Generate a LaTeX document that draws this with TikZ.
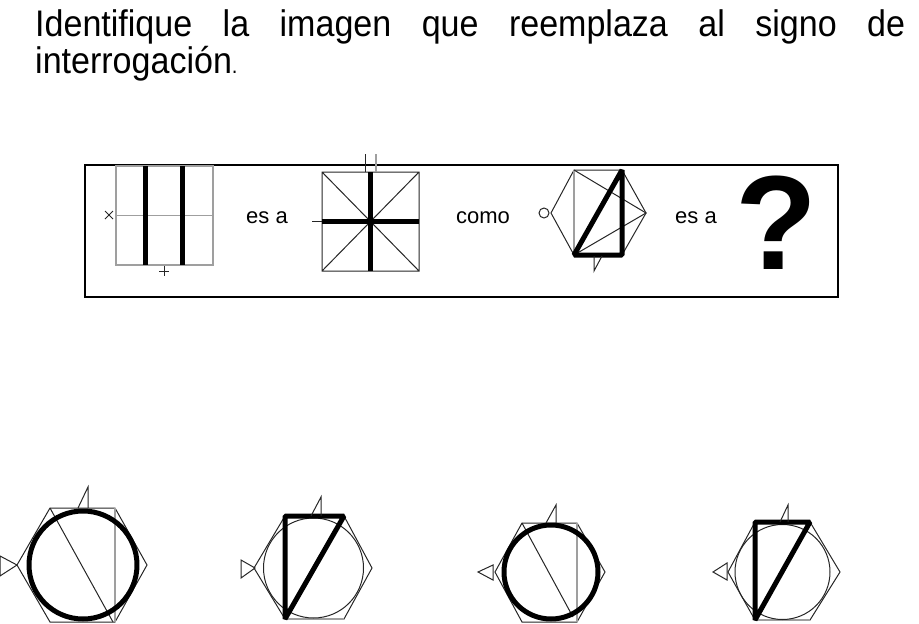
\documentclass[tikz,border=0pt]{standalone}
\usepackage{fontspec}
\setmainfont{Liberation Sans}
\newfontfamily\narrowfont[FakeStretch=0.92]{Liberation Sans}
\tikzset{
  thinline/.style={line width=1pt, black!85},
  greyline/.style={line width=1.5pt, gray!75},
  boldline/.style={line width=5pt, line join=bevel},
  word/.style={font=\fontsize{22}{26}\selectfont, anchor=base, inner sep=0pt},
}
\begin{document}
\begin{tikzpicture}[x=1pt, y=-1pt]
  \useasboundingbox (0,0) rectangle (919,624);
  % statement
  \node[anchor=base west, inner sep=0pt, font=\narrowfont\fontsize{37}{44}\selectfont] (line1) at (35,36)
    {\makebox[870pt][s]{Identifique la imagen que reemplaza al signo de}};
  \node[anchor=base west, inner sep=0pt, font=\narrowfont\fontsize{37}{44}\selectfont] (line2) at (35,73)
    {interrogación{\fontsize{22}{26}\selectfont.}};
  % analogy frame
  \draw[line width=2pt] (85,165) rectangle (838,297);
  % first figure
  \draw[greyline] (116,166) rectangle (213,265) (116,215.5) -- (213,215.5);
  \draw[boldline, line cap=butt] (145,166) -- (145,265) (182,166) -- (182,265);
  \draw[thinline] (105,211) -- (113,219) (105,219) -- (113,211);
  \draw[thinline] (159,271) -- (169,271) (164,266) -- (164,276);
  \node[word] (esa1) at (267,223) {es a};
  % second figure
  \draw[thinline] (322,172) rectangle (419,271) (322,172) -- (419,271) (322,271) -- (419,172);
  \draw[boldline, line cap=butt] (370.5,172) -- (370.5,271) (322,221.5) -- (419,221.5);
  \draw[thinline] (312,221.5) -- (322,221.5) (365,154) -- (365,172);
  \draw[greyline] (376,154) -- (376,172);
  \node[word] (como) at (483,223) {como};
  % third figure
  \draw[thinline] (551,213) -- (574,170) -- (622,170) -- (646,213) -- (622,255) -- (574,255) -- cycle;
  \draw[greyline] (574,170) -- (574,255);
  \draw[thinline] (574,170) -- (646,213) -- (574,255);
  \draw[boldline] (574,255) -- (622,170) -- (622,255) -- cycle;
  \draw[thinline] (544,213) circle[radius=5pt];
  \draw[thinline] (594,256) -- (594,271) -- (602,256);
  \node[word] (esa2) at (696,223) {es a};
  \node[anchor=base, inner sep=0pt, font=\bfseries\fontsize{134}{134}\selectfont] (qmark) at (776,269) {?};
  % answer A
  \draw[thinline] (17,565) -- (50,508) -- (115,508) -- (147,565) -- (115,622) -- (50,622) -- cycle;
  \draw[greyline] (115,508) -- (115,622);
  \draw[thinline] (50,508) -- (113,622);
  \draw[boldline] (83,565) circle[radius=54pt];
  \draw[thinline] (78,508) -- (88,487) -- (88,508);
  \draw[thinline] (17,565) -- (0,556) -- (0,576) -- cycle;
  % answer B
  \draw[thinline] (254,568) -- (285,516) -- (344,516) -- (372,568) -- (344,619) -- (285,619) -- cycle;
  \draw[greyline] (285,619) -- (344,619);
  \draw[thinline] (313.5,568) circle[radius=50pt];
  \draw[boldline] (285,619) -- (285,516) -- (344,516) -- cycle;
  \draw[thinline] (311,516) -- (321,497) -- (321,516);
  \draw[thinline] (255,568) -- (241,560) -- (241,578) -- cycle;
  % answer C
  \draw[thinline] (495,572) -- (522,523) -- (577,523) -- (605,572) -- (577,622) -- (522,622) -- cycle;
  \draw[greyline] (577,523) -- (577,622);
  \draw[thinline] (522,523) -- (573,617);
  \draw[boldline] (551,572) circle[radius=47pt];
  \draw[thinline] (546,523) -- (556,505) -- (556,523);
  \draw[thinline] (493,565) -- (478,572) -- (493,580) -- cycle;
  % answer D
  \draw[thinline] (728,572) -- (755,522) -- (810,522) -- (840,572) -- (810,620) -- (755,620) -- cycle;
  \draw[greyline] (755,620) -- (810,620);
  \draw[thinline] (782.5,572) circle[radius=47.5pt];
  \draw[boldline] (755,620) -- (755,522) -- (810,522) -- cycle;
  \draw[thinline] (780,522) -- (788,505) -- (788,522);
  \draw[thinline] (727,563) -- (713,572) -- (727,580) -- cycle;
\end{tikzpicture}
\end{document}
